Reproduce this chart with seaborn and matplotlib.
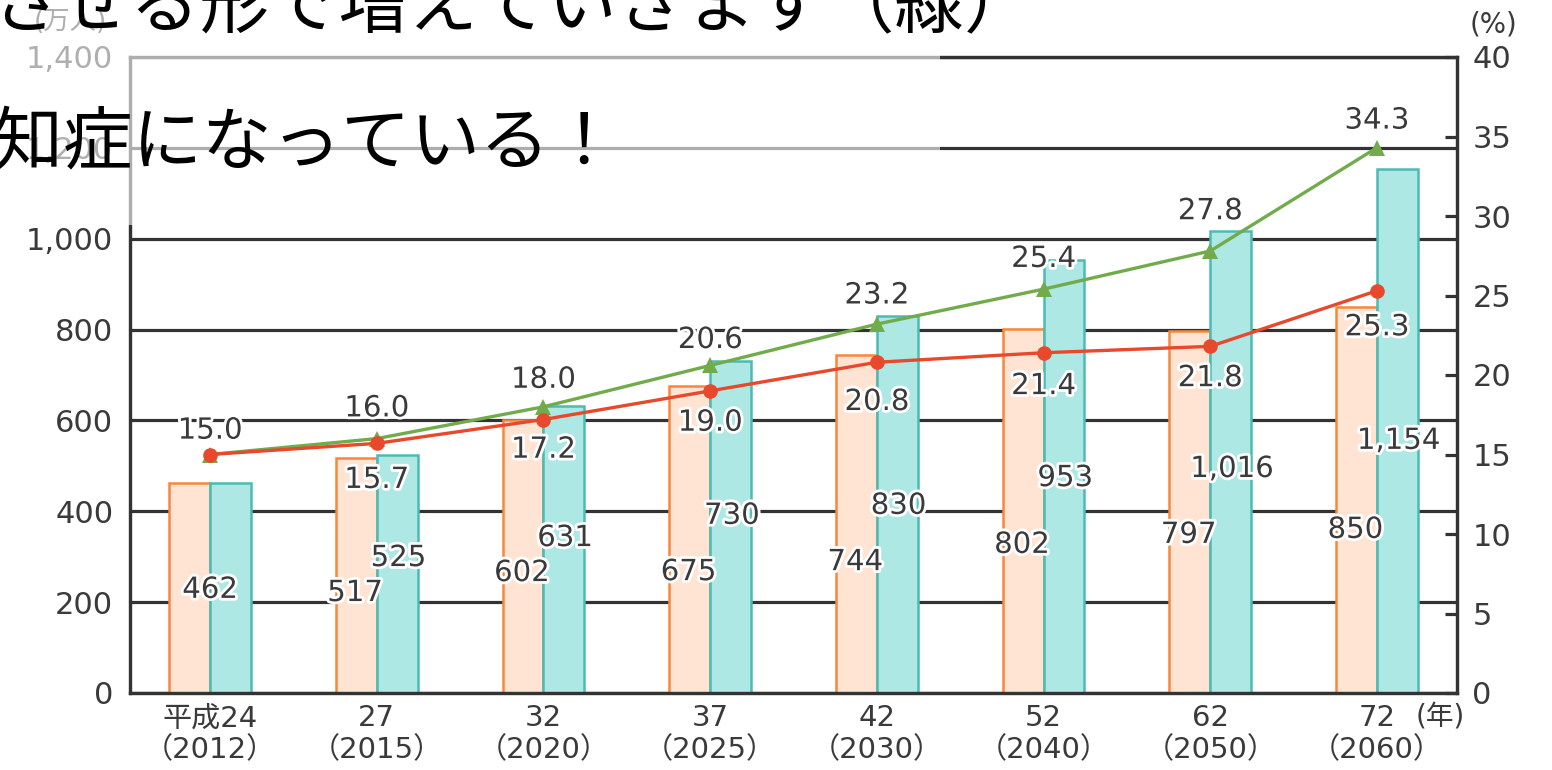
import matplotlib
matplotlib.use("Agg")
import matplotlib.pyplot as plt
import matplotlib.patheffects as pe
from matplotlib.patches import Rectangle
import numpy as np
import pandas as pd
import seaborn as sns

# ── Data ────────────────────────────────────────────────────────────────────
year_labels = ["平成24\n（2012）", "27\n（2015）", "32\n（2020）", "37\n（2025）",
               "42\n（2030）", "52\n（2040）", "62\n（2050）", "72\n（2060）"]
count_const = [462, 517, 602, 675, 744, 802, 797, 850]      # 万人, orange bars
count_rise = [462, 525, 631, 730, 830, 953, 1016, 1154]     # 万人, teal bars
pct_rise = [15.0, 16.0, 18.0, 20.6, 23.2, 25.4, 27.8, 34.3]  # %, green line
pct_const = [15.0, 15.7, 17.2, 19.0, 20.8, 21.4, 21.8, 25.3]  # %, red line
left_ticks = [0, 200, 400, 600, 800, 1000, 1200, 1400]
right_ticks = [0, 5, 10, 15, 20, 25, 30, 35, 40]

# label placement (data units), kept apart from the values
const_label_y = [227, 220, 264, 266, 288, 326, 348, 359]
rise_label_y = [None, 297, 341, 390, 412, 473, 493, 555]
green_label_y = [16.5, 17.9, 19.7, 22.2, 25.0, 27.3, 30.3, 36.0]
red_label_y = [None, 13.4, 15.3, 17.0, 18.3, 19.3, 19.8, 23.0]

# ── Style ───────────────────────────────────────────────────────────────────
sns.set_theme(style="white")
plt.rcParams["font.family"] = ["DejaVu Sans", "Noto Sans CJK JP"]

DARK = "#333333"
TXT = "#3a3a3a"
FILL_O, EDGE_O = "#FFE4D3", "#F7883B"
FILL_T, EDGE_T = "#AEE8E5", "#4CBAB5"
GREEN, RED = "#72AB4B", "#E8482B"
halo = [pe.withStroke(linewidth=4, foreground="white")]

fig = plt.figure(figsize=(15.52, 7.70), dpi=100)
ax = fig.add_axes([130 / 1552, 1 - 693 / 770, (1457 - 130) / 1552, (693 - 57) / 770])

df = pd.DataFrame({
    "year": year_labels * 2,
    "count": count_const + count_rise,
    "case": ["const"] * len(year_labels) + ["rise"] * len(year_labels),
})
sns.barplot(data=df, x="year", y="count", hue="case", palette=[FILL_O, FILL_T],
            width=0.49, gap=0, saturation=1, legend=False, ax=ax, zorder=2)
n = len(year_labels)
for i, p in enumerate(ax.patches[:2 * n]):
    p.set_edgecolor(EDGE_O if i < n else EDGE_T)
    p.set_linewidth(1.8)

ax.set_xlim(-0.48, n - 1 + 0.48)
ax.set_ylim(0, 1400)
ax.set_yticks(left_ticks)
ax.set_yticklabels([f"{v:,}" for v in left_ticks])
ax.set_xlabel("")
ax.set_ylabel("")
ax.set_axisbelow(True)
ax.yaxis.grid(True, color=DARK, linewidth=2.3)
ax.tick_params(axis="y", length=0, pad=12, labelsize=22, labelcolor=TXT)
ax.tick_params(axis="x", length=0, pad=8, labelsize=21, labelcolor=TXT)
for lbl in ax.get_xticklabels():
    lbl.set_linespacing(1.2)

ax2 = ax.twinx()
xs = np.arange(n)
sns.lineplot(x=xs, y=pct_rise, color=GREEN, linewidth=2.4, marker="^",
             markersize=12, markeredgewidth=0, ax=ax2)
sns.lineplot(x=xs, y=pct_const, color=RED, linewidth=2.4, marker="o",
             markersize=10.5, markeredgewidth=0, ax=ax2)
ax2.set_ylim(0, 40)
ax2.set_yticks(right_ticks)
ax2.tick_params(axis="y", direction="in", length=9, width=2.3, color=DARK,
                pad=11, labelsize=22, labelcolor=TXT)
ax2.grid(False)

for a in (ax, ax2):
    for s in a.spines.values():
        s.set_color(DARK)
        s.set_linewidth(2.3)

# value labels
lab = dict(ha="center", va="center", fontsize=21, color=TXT, path_effects=halo)
for i in range(n):
    if i == 0:
        ax2.text(i, const_label_y[i], f"{count_const[i]:,}", transform=ax.transData, **lab)
    else:
        ax2.text(i - 0.13, const_label_y[i], f"{count_const[i]:,}", transform=ax.transData, **lab)
        ax2.text(i + 0.13, rise_label_y[i], f"{count_rise[i]:,}", transform=ax.transData, **lab)
        ax2.text(i, red_label_y[i], f"{pct_const[i]:.1f}", **lab)
    ax2.text(i, green_label_y[i], f"{pct_rise[i]:.1f}", **lab)

# unit labels
fig.text(70 / 1552, 1 - 22 / 770, "(万人)", ha="center", va="center", fontsize=19, color=TXT)
fig.text(1494 / 1552, 1 - 25 / 770, "(%)", ha="center", va="center", fontsize=20, color=TXT)
fig.text(1440 / 1552, 1 - 716 / 770, "(年)", ha="center", va="center", fontsize=20, color=TXT)

# translucent overlay with caption text
fig.add_artist(Rectangle((0, 1 - 225 / 770), 940 / 1552, 225 / 770, transform=fig.transFigure,
                         facecolor="white", edgecolor="none", alpha=0.6, zorder=10))
fig.text(-9 / 1552, 1 - 27 / 770, "させる形で増えていきます（緑）", fontsize=50,
         family="Noto Sans CJK JP", color="black", va="baseline", zorder=11)
fig.text(-76 / 1552, 1 - 163 / 770, "認知症になっている！", fontsize=50,
         family="Noto Sans CJK JP", color="black", va="baseline", zorder=11)

fig.savefig("out.png", dpi=100)
